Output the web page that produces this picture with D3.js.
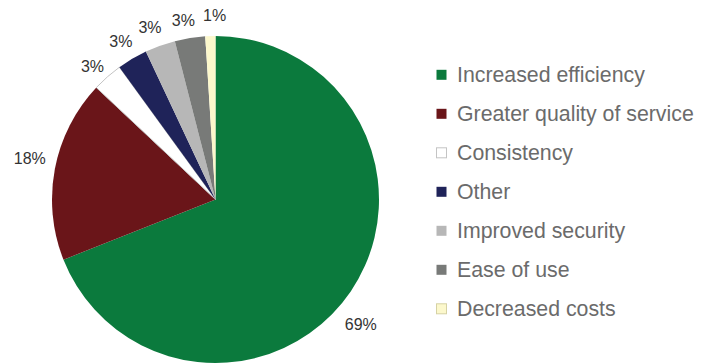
<!DOCTYPE html>
<html>
<head>
<meta charset="utf-8">
<script src="https://cdn.jsdelivr.net/npm/d3@7"></script>
<style>
  html, body { margin: 0; padding: 0; background: #fff; }
  svg { display: block; }
</style>
</head>
<body>
<svg id="chart" width="711" height="364"></svg>
<script>
// Reasons for adoption, share of respondents (%)
const categories = [
  "Increased efficiency",
  "Greater quality of service",
  "Consistency",
  "Other",
  "Improved security",
  "Ease of use",
  "Decreased costs"
];
const values = [69, 18, 3, 3, 3, 3, 1];
const colors = ["#0b7a3d", "#6a1519", "#ffffff", "#1f2359", "#b7b7b7", "#787a78", "#fcf8cc"];
const outlines = ["none", "none", "#c4c4c4", "none", "none", "none", "#d6d2a4"];

const svg = d3.select("#chart");
const cx = 215.5, cy = 199.5, R = 163.5;
const labelR = 186;

const data = categories.map((c, i) => ({ name: c, value: values[i], color: colors[i], outline: outlines[i] }));

const pie = d3.pie().sort(null).value(d => d.value);
const arcs = pie(data);
const arc = d3.arc().innerRadius(0).outerRadius(R);
const labelArc = d3.arc().innerRadius(labelR).outerRadius(labelR);

const g = svg.append("g").attr("transform", `translate(${cx},${cy})`);

g.selectAll("path.slice")
  .data(arcs)
  .join("path")
  .attr("class", "slice")
  .attr("d", arc)
  .attr("fill", d => d.data.color)
  .attr("stroke", d => d.data.name === "Consistency" ? d.data.outline : "none")
  .attr("stroke-width", 1);

// small offsets so the percentage labels clear each other around the rim
const labelNudge = {
  "Increased efficiency": [-8.5, 20],
  "Greater quality of service": [-3, -6.5],
  "Consistency": [0, 6],
  "Other": [0, 1.5],
  "Improved security": [-2.5, 3],
  "Ease of use": [-3, 4],
  "Decreased costs": [5, 2]
};

g.selectAll("text.pct")
  .data(arcs)
  .join("text")
  .attr("class", "pct")
  .attr("transform", d => {
    const [x, y] = labelArc.centroid(d);
    const [nx, ny] = labelNudge[d.data.name] || [0, 0];
    return `translate(${x + nx},${y + ny})`;
  })
  .attr("text-anchor", "middle")
  .attr("dy", "0.36em")
  .attr("font-family", "Liberation Sans, Arial, sans-serif")
  .attr("font-size", 16)
  .attr("fill", "#333333")
  .text(d => d.data.value + "%");

// Legend
const legend = svg.append("g").attr("transform", "translate(436,74.3)");
const rowGap = 39;
const rows = legend.selectAll("g.row")
  .data(data)
  .join("g")
  .attr("class", "row")
  .attr("transform", (d, i) => `translate(0,${i * rowGap})`);

rows.append("rect")
  .attr("x", 0.5).attr("y", -4.5)
  .attr("width", 10).attr("height", 10)
  .attr("fill", d => d.color)
  .attr("stroke", d => d.outline)
  .attr("stroke-width", 1);

rows.append("text")
  .attr("x", 21)
  .attr("y", 7.6)
  .attr("font-family", "Liberation Sans, Arial, sans-serif")
  .attr("font-size", 21.3)
  .attr("fill", "#6b6b6b")
  .text(d => d.name);
</script>
</body>
</html>
